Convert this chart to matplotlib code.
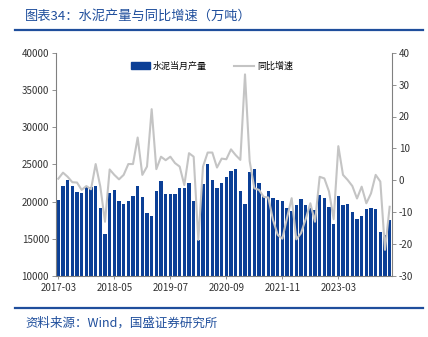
import matplotlib
matplotlib.use("Agg")
import matplotlib.pyplot as plt
from matplotlib.lines import Line2D

plt.rcParams['font.family'] = ['Noto Sans CJK SC', 'DejaVu Sans']

# Monthly cement output (10k tonnes) and YoY growth (%); Jan/Feb not reported
months = [
    "2017-03", "2017-04", "2017-05", "2017-06", "2017-07", "2017-08", "2017-09", "2017-10", "2017-11", "2017-12",
    "2018-03", "2018-04", "2018-05", "2018-06", "2018-07", "2018-08", "2018-09", "2018-10", "2018-11", "2018-12",
    "2019-03", "2019-04", "2019-05", "2019-06", "2019-07", "2019-08", "2019-09", "2019-10", "2019-11", "2019-12",
    "2020-03", "2020-04", "2020-05", "2020-06", "2020-07", "2020-08", "2020-09", "2020-10", "2020-11", "2020-12",
    "2021-03", "2021-04", "2021-05", "2021-06", "2021-07", "2021-08", "2021-09", "2021-10", "2021-11", "2021-12",
    "2022-03", "2022-04", "2022-05", "2022-06", "2022-07", "2022-08", "2022-09", "2022-10", "2022-11", "2022-12",
    "2023-03", "2023-04", "2023-05", "2023-06", "2023-07", "2023-08", "2023-09", "2023-10", "2023-11", "2023-12",
    "2024-03", "2024-04",
]

output = [
    20200, 22130, 22890, 22090, 21330, 21200, 22130, 21910, 22040, 19190,
    15580, 21110, 21550, 20040, 19680, 20080, 20790, 22090, 20570, 18430,
    18070, 21370, 22710, 21020, 21040, 21040, 21850, 21850, 22560, 20010,
    14870, 22380, 24980, 22960, 21850, 22560, 23350, 24090, 24360, 21370,
    19680, 23960, 24320, 22440, 20700, 21480, 20510, 20240, 20020, 19170,
    18720, 19530, 20380, 19570, 19150, 18900, 20910, 20460, 19260, 16930,
    20690, 19480, 19700, 18540, 17690, 18010, 18950, 19170, 19030, 15900,
    15500, 17460,
]

yoy = [
    0.5, 2.4, 1.1, -0.6, -0.7, -3.0, -1.8, -2.8, 5.1, -2.0,
    -13.0, 3.4, 1.7, 0.3, 1.7, 5.1, 5.1, 13.4, 1.7, 4.3,
    22.3, 3.5, 7.4, 6.3, 7.4, 5.4, 4.3, -1.5, 8.5, 7.4,
    -18.7, 4.3, 8.7, 8.7, 4.0, 6.8, 6.6, 9.7, 7.9, 6.4,
    33.2, 6.0, -2.5, -3.0, -5.2, -5.4, -12.4, -17.1, -18.3, -11.8,
    -5.6, -18.5, -16.6, -12.2, -7.2, -13.0, 1.1, 0.6, -3.5, -12.2,
    10.7, 1.7, 0.1, -1.8, -5.7, -2.0, -7.2, -4.1, 1.7, -0.4,
    -21.8, -8.3,
]

left_ticks = [10000, 15000, 20000, 25000, 30000, 35000, 40000]
right_ticks = [-30, -20, -10, 0, 10, 20, 30, 40]
label_step = 12

bar_color = '#0b3f96'
line_color = '#c4c4c4'
axis_color = '#808080'
brand_blue = '#1f4e9c'

fig = plt.figure(figsize=(4.28, 3.37), dpi=100)
ax = fig.add_axes([56 / 428, 1 - 276 / 337, 336 / 428, (276 - 52.7) / 337])

x = list(range(len(months)))
ax.bar(x, output, width=0.72, color=bar_color, zorder=2)
ax.set_xlim(-0.5, len(months) - 0.5)
ax.set_ylim(left_ticks[0], left_ticks[-1])
ax.set_yticks(left_ticks)
ax.set_yticklabels([str(v) for v in left_ticks])

ax.set_xticks(x[::label_step])
ax.set_xticklabels(months[::label_step])

ax2 = ax.twinx()
ax2.plot(x, yoy, color=line_color, lw=1.5, zorder=3)
ax2.set_ylim(right_ticks[0], right_ticks[-1])
ax2.set_yticks(right_ticks)
ax2.set_yticklabels([str(v) for v in right_ticks])

for a in (ax, ax2):
    a.spines['top'].set_visible(False)
    for s in ('left', 'right', 'bottom'):
        a.spines[s].set_color(axis_color)
        a.spines[s].set_linewidth(0.8)
    a.tick_params(colors='#333333', labelsize=7, length=3, width=0.6)
    a.tick_params(axis='y', color=axis_color)
ax.tick_params(axis='x', length=2, color=axis_color, pad=3)
ax.tick_params(axis='y', direction='out', pad=2)
ax2.tick_params(axis='y', direction='out', pad=2)
ax.spines['right'].set_visible(False)
ax2.spines['left'].set_visible(False)
ax2.spines['bottom'].set_visible(False)

handles = [
    plt.Rectangle((0, 0), 1, 1, color=bar_color),
    Line2D([0], [0], color=line_color, lw=1.5),
]
ax.legend(handles, ['水泥当月产量', '同比增速'], loc='upper left',
          bbox_to_anchor=(0.195, 1.0), ncol=2, frameon=False, fontsize=6.5,
          handlelength=2.2, handleheight=0.8, columnspacing=3.0,
          handletextpad=0.3, borderaxespad=0.6)

fig.text(25 / 428, 1 - 16 / 337, '图表34：水泥产量与同比增速（万吨）', color=brand_blue,
         fontsize=9.5, fontweight='light', va='center', ha='left')
fig.add_artist(Line2D([15 / 428, 423 / 428], [1 - 30 / 337, 1 - 30 / 337],
                      color=brand_blue, lw=1.6))
fig.add_artist(Line2D([15 / 428, 423 / 428], [1 - 308 / 337, 1 - 308 / 337],
                      color=brand_blue, lw=1.6))
fig.text(25 / 428, 1 - 323 / 337, '资料来源：Wind，国盛证券研究所', color=brand_blue,
         fontsize=9, fontweight='light', va='center', ha='left')

fig.savefig('out.png', dpi=100)
